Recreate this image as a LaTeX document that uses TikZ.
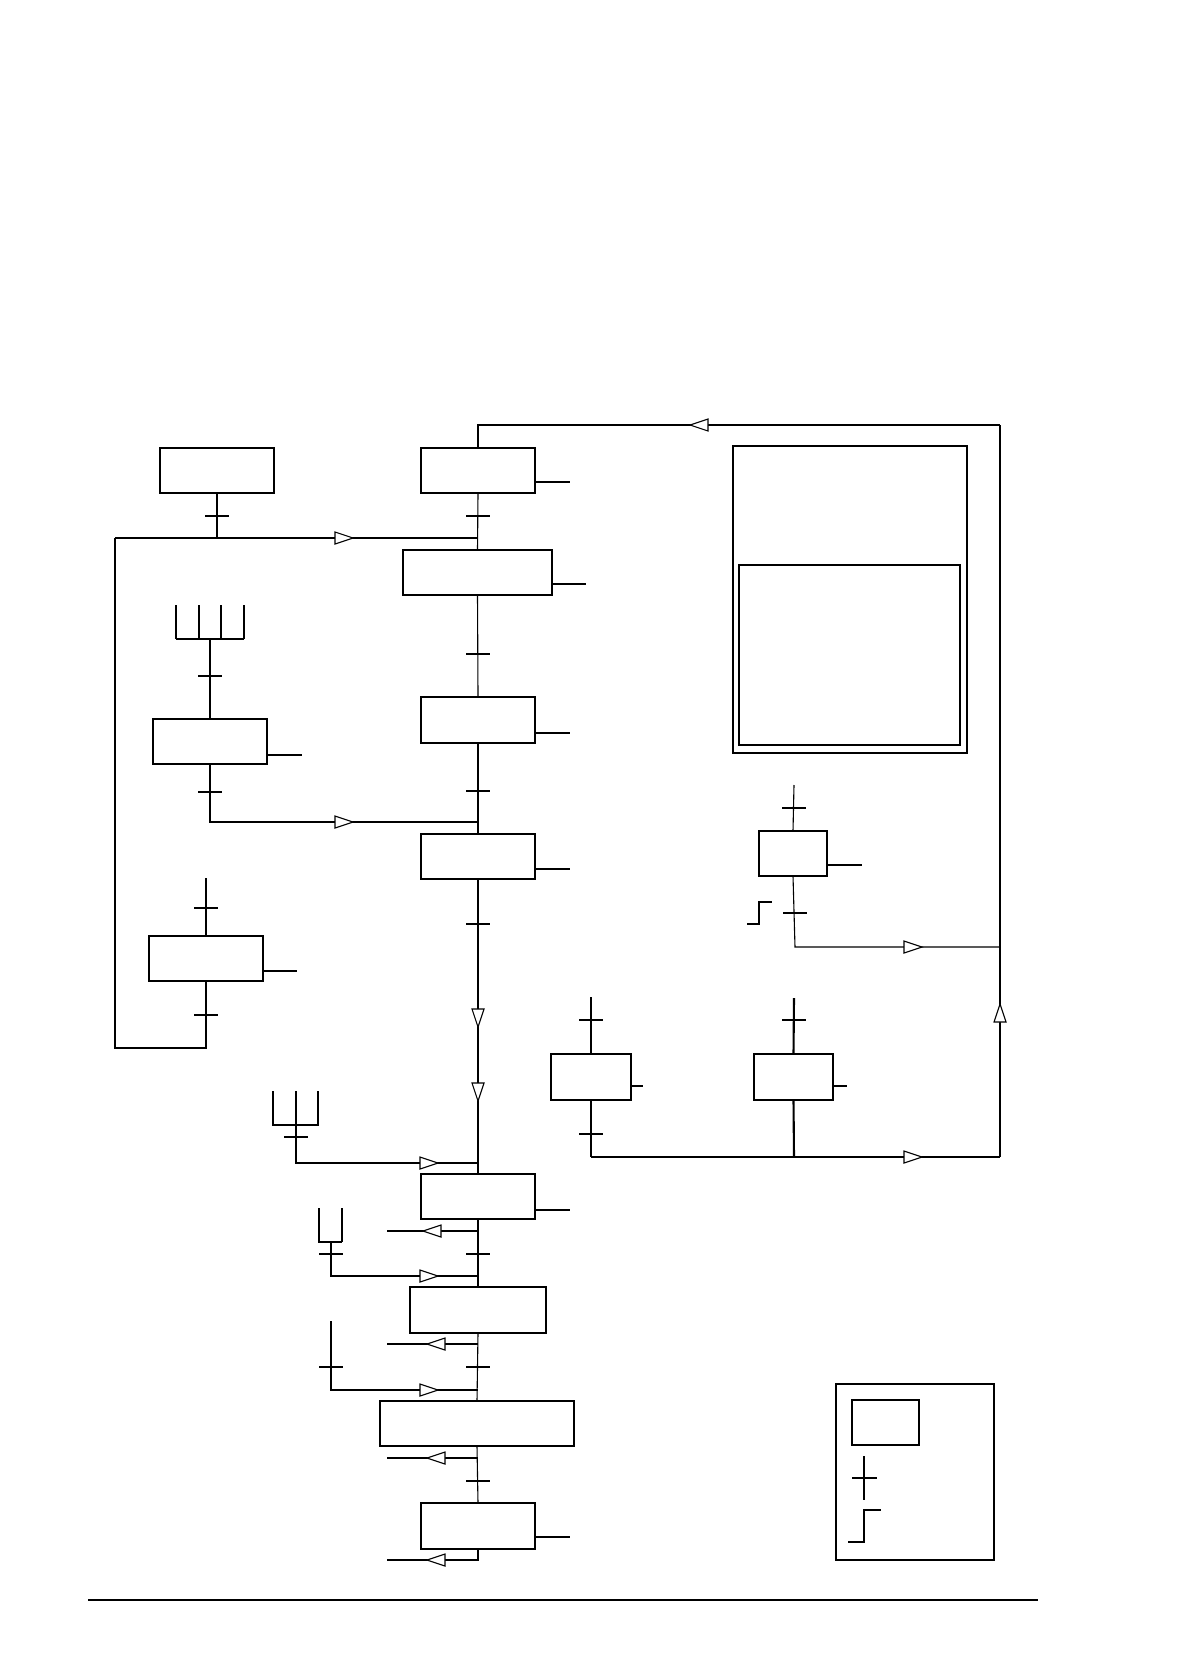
\documentclass[tikz,border=0pt]{standalone}
\usetikzlibrary{fit}
\tikzset{
  lw1/.style={line width=0.55pt},
  lw2/.style={line width=1.05pt},
  gbox/.style={draw, lw1, inner sep=0pt, outer sep=0pt, fill=none},
  tri/.pic={\draw[lw1, fill=white, line join=miter] (0,0) -- (-18,-6) -- (-18,6) -- cycle;}
}
\newcommand\gbox[5]{\coordinate (#1-a) at (#2,#3); \coordinate (#1-b) at (#4,#5);
  \node[gbox, fit=(#1-a)(#1-b)] (#1) {};}
\newcommand\tickA[3]{\draw[#3] (#1-12,#2) -- (#1+12,#2);}
\begin{document}
\begin{tikzpicture}[x=0.5pt,y=-0.5pt, line cap=butt]
\fill[white] (0,0) rectangle (1182,1680);
\useasboundingbox (0,0) rectangle (1182,1680);

% ---------- boxes ----------
\gbox{A}{160}{448}{274}{493}
\gbox{B}{421}{448}{535}{493}
\gbox{C}{403}{550}{552}{595}
\gbox{D}{421}{697}{535}{743}
\gbox{E}{153}{719}{267}{764}
\gbox{P}{421}{834}{535}{879}
\gbox{F}{149}{936}{263}{981}
\gbox{G}{733}{446}{967}{753}
\gbox{H}{739}{565}{960}{745}
\gbox{I}{759}{831}{827}{876}
\gbox{J}{551}{1054}{631}{1100}
\gbox{K}{754}{1054}{833}{1100}
\gbox{L}{421}{1174}{535}{1219}
\gbox{M}{410}{1287}{546}{1333}
\gbox{N}{380}{1401}{574}{1446}
\gbox{O}{421}{1503}{535}{1549}
\gbox{Leg}{836}{1384}{994}{1560}
\gbox{LegB}{852}{1400}{919}{1445}

% thick sides
\draw[lw2] (A.south west) rectangle (A.north east);
\draw[lw2] (B.north west) -- (B.north east) -- (B.south east);
\draw[lw2] (C.south west) -- (C.north west) -- (C.north east);
\draw[lw2] (D.south west) -- (D.south east) -- (D.north east);
\draw[lw2] (E.north west) -- (E.north east) -- (E.south east);
\draw[lw2] (P.south west) -- (P.south east) -- (P.north east) -- (P.north west);
\draw[lw2] (F.south west) -- (F.north west) -- (F.north east);
\draw[lw2] (G.north west) -- (G.south west);
\draw[lw2] (H.north east) -- (H.south east);
\draw[lw2] (J.south west) -- (J.south east) -- (J.north east);
\draw[lw2] (K.south west) -- (K.south east);
\draw[lw2] (L.north east) -- (L.south east);
\draw[lw2] (N.north west) -- (N.south west) (N.north east) -- (N.south east);
\draw[lw2] (O.south west) -- (O.south east) -- (O.north east);
\draw[lw2] (Leg.south west) rectangle (Leg.north east);
\draw[lw2] (LegB.north west) -- (LegB.north east) (LegB.south west) -- (LegB.south east);

% ---------- coordinates ----------
\coordinate (tl) at (478,425);
\coordinate (tr) at (1000,425);
\coordinate (br) at (1000,1157);
\coordinate (j1) at (478,538);
\coordinate (la) at (115,538);
\coordinate (lb) at (115,1048);
\coordinate (j2) at (478,822);
\coordinate (fe) at (210,639);
\coordinate (ftop) at (206,878);
\coordinate (itop) at (794,785);
\coordinate (ib) at (795,947);
\coordinate (ir) at (1000,947);
\coordinate (jtop) at (591,997);
\coordinate (jb) at (591,1157);
\coordinate (ktop) at (794,998);
\coordinate (kb) at (794,1157);
\coordinate (f1) at (296,1125);
\coordinate (j3) at (478,1163);
\coordinate (f2) at (331,1242);
\coordinate (j4) at (478,1276);
\coordinate (v3) at (331,1321);
\coordinate (j5) at (478,1390);
\coordinate (ob) at (478,1560);

% ---------- main column ----------
\draw[lw2] (B.north) -- (tl) -- (tr);
\draw[lw1] (tr) -- (br);
\draw[lw1] (B.south) -- (C.north);
\draw[lw1] (C.south) -- (D.north);
\draw[lw1] (D.south) -- (P.north);
\draw[lw1] (P.south) -- (L.north);
\draw[lw1] (L.south) -- (M.north);
\draw[lw1] (M.south) -- (N.north);
\draw[lw1] (N.south) -- (O.north);
\draw[lw1] (O.south) -- (ob) -- ++(-91,0);

\tickA{478}{516}{lw2}
\tickA{478}{654}{lw1}
\tickA{478}{791}{lw2}
\tickA{478}{924}{lw1}
\tickA{478}{1254}{lw2}
\tickA{478}{1367}{lw1}
\tickA{478}{1481}{lw2}

% ---------- A and left loop ----------
\draw[lw1] (A.south) -- (A.south |- j1);
\tickA{217}{516}{lw2}
\draw[lw1] (la) -- (j1);
\draw[lw2] (la) -- (lb) -- (F.south |- lb) -- (F.south);
\tickA{206}{1015}{lw1}
\draw[lw2] (ftop) -- (F.north);
\tickA{206}{908}{lw1}

% ---------- E ----------
\draw[lw1] (E.north) -- (fe);
\draw[lw1] (176,639) -- (244,639);
\draw[lw2] (176,605) -- (176,639) (199,605) -- (199,639);
\draw[lw1] (221,605) -- (221,639) (244,605) -- (244,639);
\tickA{210}{676}{lw1}
\draw[lw1] (E.south) |- (j2);
\tickA{210}{792}{lw1}

% ---------- I ----------
\draw[lw1] (itop) -- (I.north);
\tickA{794}{808}{lw1}
\draw[lw1] (I.south) -- (ib) -- (ir);
\tickA{795}{913}{lw1}
\draw[lw1] (747,924) -- (759,924) -- (759,902) -- (772,902);

% ---------- J, K ----------
\draw[lw2] (jtop) -- (J.north) (J.south) -- (jb);
\tickA{591}{1020}{lw2}
\tickA{591}{1134}{lw2}
\draw[lw2] (ktop) -- (K.north) (K.south) -- (kb);
\tickA{794}{1020}{lw2}
\draw[lw1] (jb) -- (br);

% ---------- lower left branches ----------
\draw[lw1] (273,1091) -- (273,1125) -- (318,1125) -- (318,1091);
\draw[lw2] (296,1091) -- (f1) -- (f1 |- j3) -- (j3);
\tickA{296}{1137}{lw2}
\draw[lw2] (478,1231) -- (387,1231);
\draw[lw1] (319,1208) -- (319,1242) -- (342,1242);
\draw[lw2] (342,1208) -- (342,1242);
\draw[lw1] (f2) |- (j4);
\tickA{331}{1254}{lw2}
\draw[lw1] (478,1344) -- (387,1344);
\draw[lw2] (v3) |- (j5);
\tickA{331}{1367}{lw1}
\draw[lw2] (478,1458) -- (387,1458);

% ---------- outputs ----------
\draw[lw2] (535,482) -- (570,482);
\draw[lw2] (552,584) -- (586,584);
\draw[lw1] (535,733) -- (570,733);
\draw[lw1] (535,869) -- (570,869);
\draw[lw2] (267,755) -- (302,755);
\draw[lw1] (263,971) -- (297,971);
\draw[lw1] (827,865) -- (862,865);
\draw[lw2] (631,1086) -- (643,1086);
\draw[lw2] (833,1086) -- (847,1086);
\draw[lw2] (535,1210) -- (570,1210);
\draw[lw1] (535,1537) -- (570,1537);

% ---------- legend ----------
\draw[lw1] (864,1456) -- (864,1500) (852,1478) -- (877,1478);
\draw[lw1] (848,1542) -- (864,1542) -- (864,1510) -- (881,1510);

% ---------- arrowheads ----------
\pic at (353,538) {tri};
\pic at (353,822) {tri};
\pic[rotate=180] at (690,425) {tri};
\pic[rotate=-90] at (478,1027) {tri};
\pic[rotate=-90] at (478,1101) {tri};
\pic at (922,947) {tri};
\pic[rotate=90] at (1000,1004) {tri};
\pic at (922,1157) {tri};
\pic at (438,1163) {tri};
\pic[rotate=180] at (423,1231) {tri};
\pic at (438,1276) {tri};
\pic[rotate=180] at (427,1344) {tri};
\pic at (438,1390) {tri};
\pic[rotate=180] at (427,1458) {tri};
\pic[rotate=180] at (427,1560) {tri};

% ---------- bottom rule ----------
\draw[lw2] (88,1600) -- (1038,1600);
\end{tikzpicture}
\end{document}
